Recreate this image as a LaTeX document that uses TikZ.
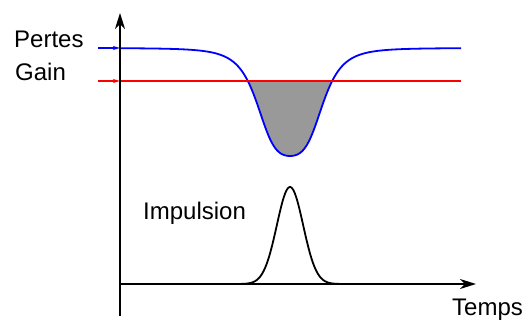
\documentclass[tikz,border=0pt]{standalone}
\usepackage{fontspec}
\setmainfont{Liberation Sans}
\usetikzlibrary{arrows.meta, positioning}
\definecolor{LossBlue}{RGB}{0, 0, 255}
\definecolor{GainRed}{RGB}{255, 0, 0}
\definecolor{WindowGray}{RGB}{153, 153, 153}

\begin{document}
\begin{tikzpicture}[
        x=1pt, y=-1pt,
        axis/.style={line width=1.8pt, -{Stealth[length=16pt, width=10pt, inset=5pt]}},
        level/.style={line width=1.8pt},
        tick/.style={line width=1.8pt, -{Stealth[length=7pt, width=4pt, inset=2pt]}},
        label/.style={font=\fontsize{24}{28}\selectfont, inner sep=0pt, anchor=base west},
        declare function={dip(\t)=48+108/(1+0.26*((\t-290)/33.5)^2+0.74*((\t-290)/33.5)^4);}
    ]
        \useasboundingbox (0,0) rectangle (530,323);

        % axes
        \coordinate (bottom) at (120,316);
        \coordinate (ytop) at (120,13);
        \coordinate (origin) at (120,284);
        \coordinate (xend) at (476,284);

        % gain window
        \fill[WindowGray] plot[domain=247.8:332.2, samples=120] (\x, {dip(\x)}) -- cycle;

        % losses and gain
        \coordinate (lossin) at (98,48);
        \coordinate (lossaxis) at (120,48);
        \coordinate (gainin) at (98,81);
        \coordinate (gainaxis) at (120,81);
        \coordinate (gainout) at (461,81);
        \draw[tick, LossBlue] (lossin) -- (lossaxis);
        \draw[level, LossBlue] plot[domain=120:461, samples=240] (\x, {dip(\x)});
        \draw[tick, GainRed] (gainin) -- (gainaxis);
        \draw[level, GainRed] (gainaxis) -- (gainout);

        \draw[axis] (bottom) -- (ytop);
        \draw[axis] (origin) -- (xend);

        % pulse
        \draw[level, black] plot[domain=200:380, samples=160]
            (\x, {284-97*exp(-min(((\x-290)/18.6)^2, 25))});

        \node[label] (pertes) at (14,48) {Pertes};
        \node[label] (gain) at (15,81) {Gain};
        \node[label] (impulsion) at (143,219) {Impulsion};
        \node[label] (temps) at (452,315) {Temps};
    \end{tikzpicture}
\end{document}
